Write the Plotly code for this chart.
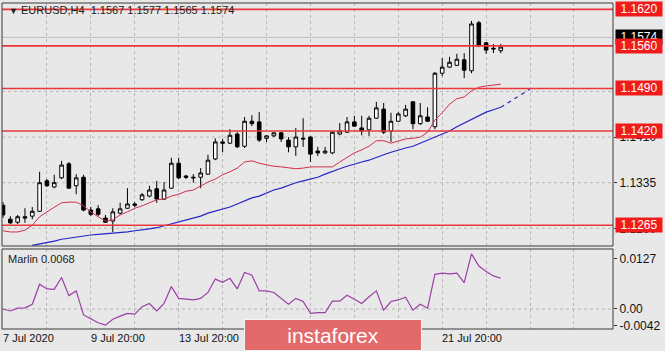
import plotly.graph_objects as go

# ---------------- data ----------------
bar_index = list(range(69))
opens = [1.1298,1.1275,1.1270,1.1279,1.1280,1.1288,1.1338,1.1328,1.1343,1.1366,
         1.1330,1.1344,1.1290,1.1292,1.1277,1.1272,1.1285,1.1293,1.1300,1.1307,
         1.1313,1.1325,1.1308,1.1326,1.1367,1.1346,1.1344,1.1344,1.1349,1.1374,
         1.1402,1.1400,1.1415,1.1395,1.1436,1.1435,1.1408,1.1412,1.1417,1.1405,
         1.1394,1.1408,1.1410,1.1387,1.1384,1.1384,1.1415,1.1418,1.1435,1.1425,
         1.1422,1.1441,1.1456,1.1420,1.1436,1.1445,1.1468,1.1432,1.1443,1.1427,
         1.1515,1.1525,1.1528,1.1537,1.1519,1.1598,1.1565,1.1556,1.1552]
highs = [1.1303,1.1280,1.1282,1.1293,1.1295,1.1353,1.1341,1.1348,1.1371,1.1369,
         1.1349,1.1348,1.1295,1.1298,1.1282,1.1293,1.1302,1.1326,1.1303,1.1318,
         1.1330,1.1338,1.1336,1.1376,1.1376,1.1348,1.1349,1.1359,1.1381,1.1408,
         1.1407,1.1423,1.1418,1.1443,1.1446,1.1451,1.1413,1.1418,1.1418,1.1410,
         1.1425,1.1441,1.1412,1.1394,1.1394,1.1420,1.1433,1.1443,1.1445,1.1445,
         1.1445,1.1468,1.1466,1.1450,1.1451,1.1463,1.1469,1.1466,1.1459,1.1517,
         1.1540,1.1542,1.1547,1.1548,1.1601,1.1601,1.1566,1.1563,1.1563]
lows = [1.1277,1.1267,1.1267,1.1269,1.1275,1.1287,1.1328,1.1326,1.1341,1.1325,
        1.1316,1.1288,1.1280,1.1280,1.1269,1.1254,1.1283,1.1292,1.1295,1.1305,
        1.1311,1.1302,1.1307,1.1325,1.1341,1.1341,1.1335,1.1326,1.1348,1.1372,
        1.1385,1.1399,1.1392,1.1392,1.1428,1.1402,1.1402,1.1410,1.1402,1.1385,
        1.1379,1.1394,1.1369,1.1379,1.1382,1.1382,1.1413,1.1417,1.1427,1.1413,
        1.1412,1.1440,1.1415,1.1402,1.1435,1.1443,1.1423,1.1430,1.1435,1.1423,
        1.1510,1.1524,1.1527,1.1507,1.1515,1.1558,1.1547,1.1548,1.1548]
closes = [1.1282,1.1269,1.1279,1.1277,1.1288,1.1335,1.1330,1.1335,1.1364,1.1326,
          1.1343,1.1290,1.1283,1.1283,1.1270,1.1287,1.1292,1.1300,1.1298,1.1315,
          1.1323,1.1308,1.1323,1.1367,1.1343,1.1344,1.1343,1.1351,1.1372,1.1402,
          1.1400,1.1413,1.1394,1.1436,1.1432,1.1405,1.1412,1.1417,1.1407,1.1394,
          1.1410,1.1407,1.1382,1.1384,1.1387,1.1418,1.1420,1.1435,1.1428,1.1420,
          1.1441,1.1458,1.1418,1.1436,1.1448,1.1456,1.1432,1.1445,1.1436,1.1515,
          1.1525,1.1533,1.1538,1.1520,1.1596,1.1560,1.1553,1.1555,1.1558]

ma_red = [1.1256,1.1254,1.1254,1.1257,1.1265,1.1279,1.1287,1.1295,1.1302,1.1303,
          1.1303,1.1297,1.1287,1.1279,1.1272,1.1274,1.1282,1.1287,1.1293,1.1297,
          1.1302,1.1307,1.1308,1.1313,1.1316,1.1321,1.1323,1.1330,1.1336,1.1341,
          1.1348,1.1353,1.1359,1.1369,1.1371,1.1367,1.1364,1.1362,1.1361,1.1359,
          1.1358,1.1359,1.1361,1.1361,1.1361,1.1361,1.1369,1.1377,1.1384,1.1389,
          1.1395,1.1404,1.1404,1.1400,1.1404,1.1407,1.1408,1.1410,1.1418,1.1438,
          1.1450,1.1464,1.1473,1.1476,1.1486,1.1492,1.1494,1.1496,1.1497]
ma_blue = [None,None,None,None,
           1.1232,1.1234,1.1237,1.1239,1.1242,1.1244,1.1246,1.1247,1.1249,1.1250,
           1.1251,1.1252,1.1252,1.1254,1.1256,1.1257,1.1259,1.1261,1.1264,1.1267,
           1.1270,1.1274,1.1277,1.1280,1.1285,1.1288,1.1292,1.1295,1.1300,1.1305,
           1.1310,1.1313,1.1318,1.1323,1.1326,1.1331,1.1335,1.1338,1.1341,1.1344,
           1.1349,1.1354,1.1358,1.1362,1.1366,1.1369,1.1372,1.1377,1.1381,1.1385,
           1.1389,1.1392,1.1395,1.1400,1.1404,1.1410,1.1415,1.1420,1.1427,1.1433,
           1.1440,1.1445,1.1451,1.1455,1.1459]
blue_proj_x = [68, 72]
blue_proj_y = [1.1459, 1.1489]

marlin = [0.0000,-0.0005,0.0002,0.0003,0.0012,0.0063,0.0051,0.0050,0.0080,0.0034,
          0.0046,-0.0015,-0.0025,-0.0035,-0.0041,-0.0026,-0.0018,-0.0011,-0.0013,0.0006,
          0.0014,-0.0005,0.0014,0.0057,0.0027,0.0025,0.0023,0.0027,0.0042,0.0076,
          0.0068,0.0078,0.0051,0.0093,0.0086,0.0046,0.0046,0.0042,0.0027,0.0012,
          0.0027,0.0019,-0.0011,-0.0009,-0.0009,0.0020,0.0020,0.0035,0.0025,0.0014,
          0.0031,0.0046,-0.0003,0.0019,0.0023,0.0030,-0.0003,0.0012,0.0002,0.0088,
          0.0091,0.0089,0.0091,0.0067,0.0140,0.0109,0.0095,0.0084,0.0078]

levels = [1.1620, 1.1560, 1.1490, 1.1420, 1.1265]
last_price = 1.1574
price_ticks = [1.1260, 1.1335, 1.1410]
marlin_ticks = [0.0127, 0.0, -0.0042]
marlin_tick_text = ["0.0127", "0.00", "-0.0042"]
time_label_idx = [0, 12, 24, 60]
time_labels = ["7 Jul 2020", "9 Jul 20:00", "13 Jul 20:00", "21 Jul 20:00"]
grid_idx = list(range(0, 84, 6))

title_text = "EURUSD,H4  1.1567 1.1577 1.1565 1.1574"
marlin_label = "Marlin 0.0068"

# ---------------- figure ----------------
FONT = "Liberation Sans"
BG = "#e8e8e8"
LEVEL_RED = "#e8383a"

fig = go.Figure()

fig.add_trace(go.Candlestick(
    x=bar_index, open=opens, high=highs, low=lows, close=closes,
    increasing=dict(line=dict(color="#000000", width=1), fillcolor="#ffffff"),
    decreasing=dict(line=dict(color="#000000", width=1), fillcolor="#000000"),
    whiskerwidth=0, xaxis="x", yaxis="y", hoverinfo="skip", showlegend=False))

fig.add_trace(go.Scatter(x=bar_index, y=ma_red, mode="lines",
                         line=dict(color="#d0304c", width=1), xaxis="x", yaxis="y",
                         showlegend=False, hoverinfo="skip"))
fig.add_trace(go.Scatter(x=bar_index, y=ma_blue, mode="lines",
                         line=dict(color="#2424c8", width=1.2), xaxis="x", yaxis="y",
                         showlegend=False, hoverinfo="skip"))
fig.add_trace(go.Scatter(x=blue_proj_x, y=blue_proj_y, mode="lines",
                         line=dict(color="#2424c8", width=1.2, dash="4px,4px"),
                         xaxis="x", yaxis="y", showlegend=False, hoverinfo="skip"))
fig.add_trace(go.Scatter(x=bar_index, y=marlin, mode="lines",
                         line=dict(color="#9b3fa6", width=1.2), xaxis="x2", yaxis="y2",
                         showlegend=False, hoverinfo="skip"))

xr = [-0.137, 83.33]
main_dom = [0.2546, 1.0]
low_dom = [0.0, 0.2454]

shapes = []
for lv in levels:
    shapes.append(dict(type="line", xref="paper", x0=0, x1=1, yref="y", y0=lv, y1=lv,
                       line=dict(color=LEVEL_RED, width=1.6), layer="above"))
shapes.append(dict(type="line", xref="paper", x0=0, x1=1, yref="y", y0=last_price,
                   y1=last_price, line=dict(color="#bdbdbd", width=1), layer="below"))
shapes.append(dict(type="line", xref="paper", x0=0, x1=1, yref="y2", y0=0, y1=0,
                   line=dict(color="#b4b4b4", width=1, dash="3px,3px"), layer="below"))
for yr in ["y domain", "y2 domain"]:
    shapes.append(dict(type="rect", xref="paper", x0=0, x1=1, yref=yr, y0=0, y1=1,
                       line=dict(color="#3a3a3a", width=1), fillcolor="rgba(0,0,0,0)",
                       layer="above"))

annotations = []
annotations.append(dict(xref="paper", yref="paper", x=0.008, y=0.9785, xanchor="left",
                        yanchor="middle", showarrow=False,
                        text="<span style='font-size:9px'>▼</span> " + title_text,
                        font=dict(family=FONT, size=11, color="#222222")))
annotations.append(dict(xref="paper", yref="paper", x=0.006, y=0.2147, xanchor="left",
                        yanchor="middle", showarrow=False, text=marlin_label,
                        font=dict(family=FONT, size=11, color="#222222")))
for i, t in zip(time_label_idx, time_labels):
    annotations.append(dict(xref="x2", yref="paper", x=i, y=-0.0276, xanchor="left",
                            yanchor="middle", showarrow=False, text=t, xshift=-2,
                            font=dict(family=FONT, size=11, color="#111111")))
annotations.append(dict(xref="paper", yref="y", x=1.0025, y=last_price, xanchor="left",
                        yanchor="middle", showarrow=False, text=f"{last_price:.4f}",
                        bgcolor="#000000", width=44, height=12, borderpad=1,
                        font=dict(family=FONT, size=12, color="#ffffff")))
for lv in levels:
    annotations.append(dict(xref="paper", yref="y", x=1.0025, y=lv, xanchor="left",
                            yanchor="middle", showarrow=False, text=f"{lv:.4f}",
                            bgcolor="#f01c1c", width=44, height=12, borderpad=1,
                            font=dict(family=FONT, size=12, color="#ffffff")))
annotations.append(dict(xref="paper", yref="paper", x=0.5417, y=-0.0184,
                        xanchor="center", yanchor="middle", showarrow=False,
                        text="instaforex", bgcolor="#e36a6a", bordercolor="#f4f4f4",
                        borderwidth=1, width=174, height=28, borderpad=1,
                        font=dict(family=FONT, size=21, color="#ffffff")))

fig.update_layout(
    width=665, height=351,
    margin=dict(l=2, r=52, t=3, b=22),
    paper_bgcolor=BG, plot_bgcolor=BG,
    showlegend=False,
    xaxis=dict(domain=[0, 1], range=xr, anchor="y", tickvals=grid_idx, showticklabels=False,
               showgrid=True, gridcolor="#b8b8b8", griddash="3px,3px", gridwidth=1,
               zeroline=False, rangeslider=dict(visible=False), fixedrange=True),
    xaxis2=dict(domain=[0, 1], range=xr, anchor="y2", tickvals=grid_idx,
                showticklabels=False, showgrid=True, gridcolor="#b8b8b8",
                griddash="3px,3px", gridwidth=1, zeroline=False, matches="x"),
    yaxis=dict(domain=main_dom, range=[1.123092, 1.163046], side="right", anchor="x",
               tickvals=price_ticks, ticktext=[f"{v:.4f}" for v in price_ticks],
               ticks="outside", ticklen=3, tickcolor="#333333",
               tickfont=dict(family=FONT, size=12, color="#111111"),
               showgrid=False, zeroline=False),
    yaxis2=dict(domain=low_dom, range=[-0.00508, 0.01524], side="right", anchor="x2",
                tickvals=marlin_ticks, ticktext=marlin_tick_text, ticks="outside",
                ticklen=3, tickcolor="#333333",
                tickfont=dict(family=FONT, size=12, color="#111111"),
                showgrid=False, zeroline=False),
    shapes=shapes,
    annotations=annotations,
)

# dashed horizontal price grid at the axis step
for v in [1.1260, 1.1335, 1.1410, 1.1485, 1.1560]:
    fig.add_shape(type="line", xref="paper", x0=0, x1=1, yref="y", y0=v, y1=v,
                  line=dict(color="#b8b8b8", width=1, dash="3px,3px"), layer="below")

fig.write_html("out.html", config={"displayModeBar": False})
